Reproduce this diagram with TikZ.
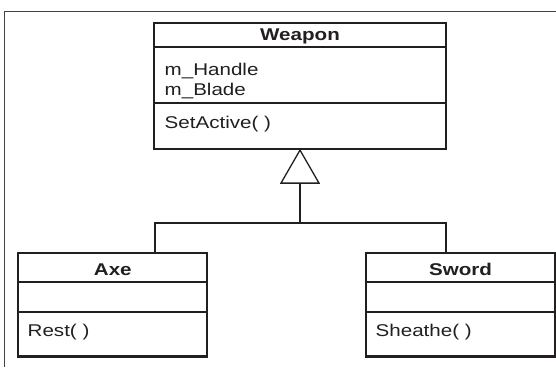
\documentclass[tikz,border=0pt]{standalone}
\usepackage{fontspec}
\setmainfont{Liberation Sans}[FakeStretch=1.21]
\definecolor{ink}{RGB}{35,31,32}
\begin{document}
\begin{tikzpicture}[x=1pt,y=-1pt,
  classbox/.style={draw=ink, line width=2.2pt, rectangle, inner sep=0pt},
  sepline/.style={draw=ink, line width=1.6pt},
  conn/.style={draw=ink, line width=1.3pt, line join=miter},
  frameline/.style={draw=ink!85, line width=1pt},
  title/.style={font=\fontsize{17}{20}\selectfont\bfseries, text=ink, anchor=base, inner sep=0pt},
  member/.style={font=\fontsize{17}{20}\selectfont, text=ink, anchor=base west, inner sep=0pt}]
\useasboundingbox (0,0) rectangle (556,367);
\fill[white] (0,0) rectangle (556,367);
% outer frame (partly visible)
\draw[frameline] (4,367) -- (4,11.7) -- (556,11.7);

% Weapon
\node[classbox, minimum width=292pt, minimum height=126pt] (weapon) at (300,86) {};
\draw[sepline] (154,47) -- (446,47);
\draw[sepline] (154,103) -- (446,103);
\node[title] (weapont) at (300,40.7) {Weapon};
\node[member] (wa1) at (164.5,75) {m\_Handle};
\node[member] (wa2) at (164.5,95) {m\_Blade};
\node[member] (wm1) at (164.5,128) {SetActive( )};

% Axe
\node[classbox, minimum width=189pt, minimum height=103.5pt] (axe) at (112.8,304.8) {};
\draw[sepline] (18.3,282) -- (207.3,282);
\draw[sepline] (18.3,311.7) -- (207.3,311.7);
\node[title] (axet) at (112.8,275) {Axe};
\node[member] (am1) at (27.5,336) {Rest( )};

% Sword
\node[classbox, minimum width=189pt, minimum height=103.5pt] (sword) at (460.5,304.8) {};
\draw[sepline] (366,282) -- (555,282);
\draw[sepline] (366,311.7) -- (555,311.7);
\node[title] (swordt) at (460.5,275) {Sword};
\node[member] (sm1) at (375.5,336) {Sheathe( )};

% generalization
\coordinate (tribase) at ([yshift=-33pt]weapon.south);
\draw[conn, fill=white] (weapon.south) -- ([xshift=19pt]tribase) -- ([xshift=-19pt]tribase) -- cycle;
\coordinate (busL) at (155,223);
\coordinate (busR) at (446,223);
\draw[conn] (tribase) -- (tribase |- busL);
\draw[conn] (busL |- axe.north) -- (busL) -- (busR) -- (busR |- sword.north);
\end{tikzpicture}
\end{document}
